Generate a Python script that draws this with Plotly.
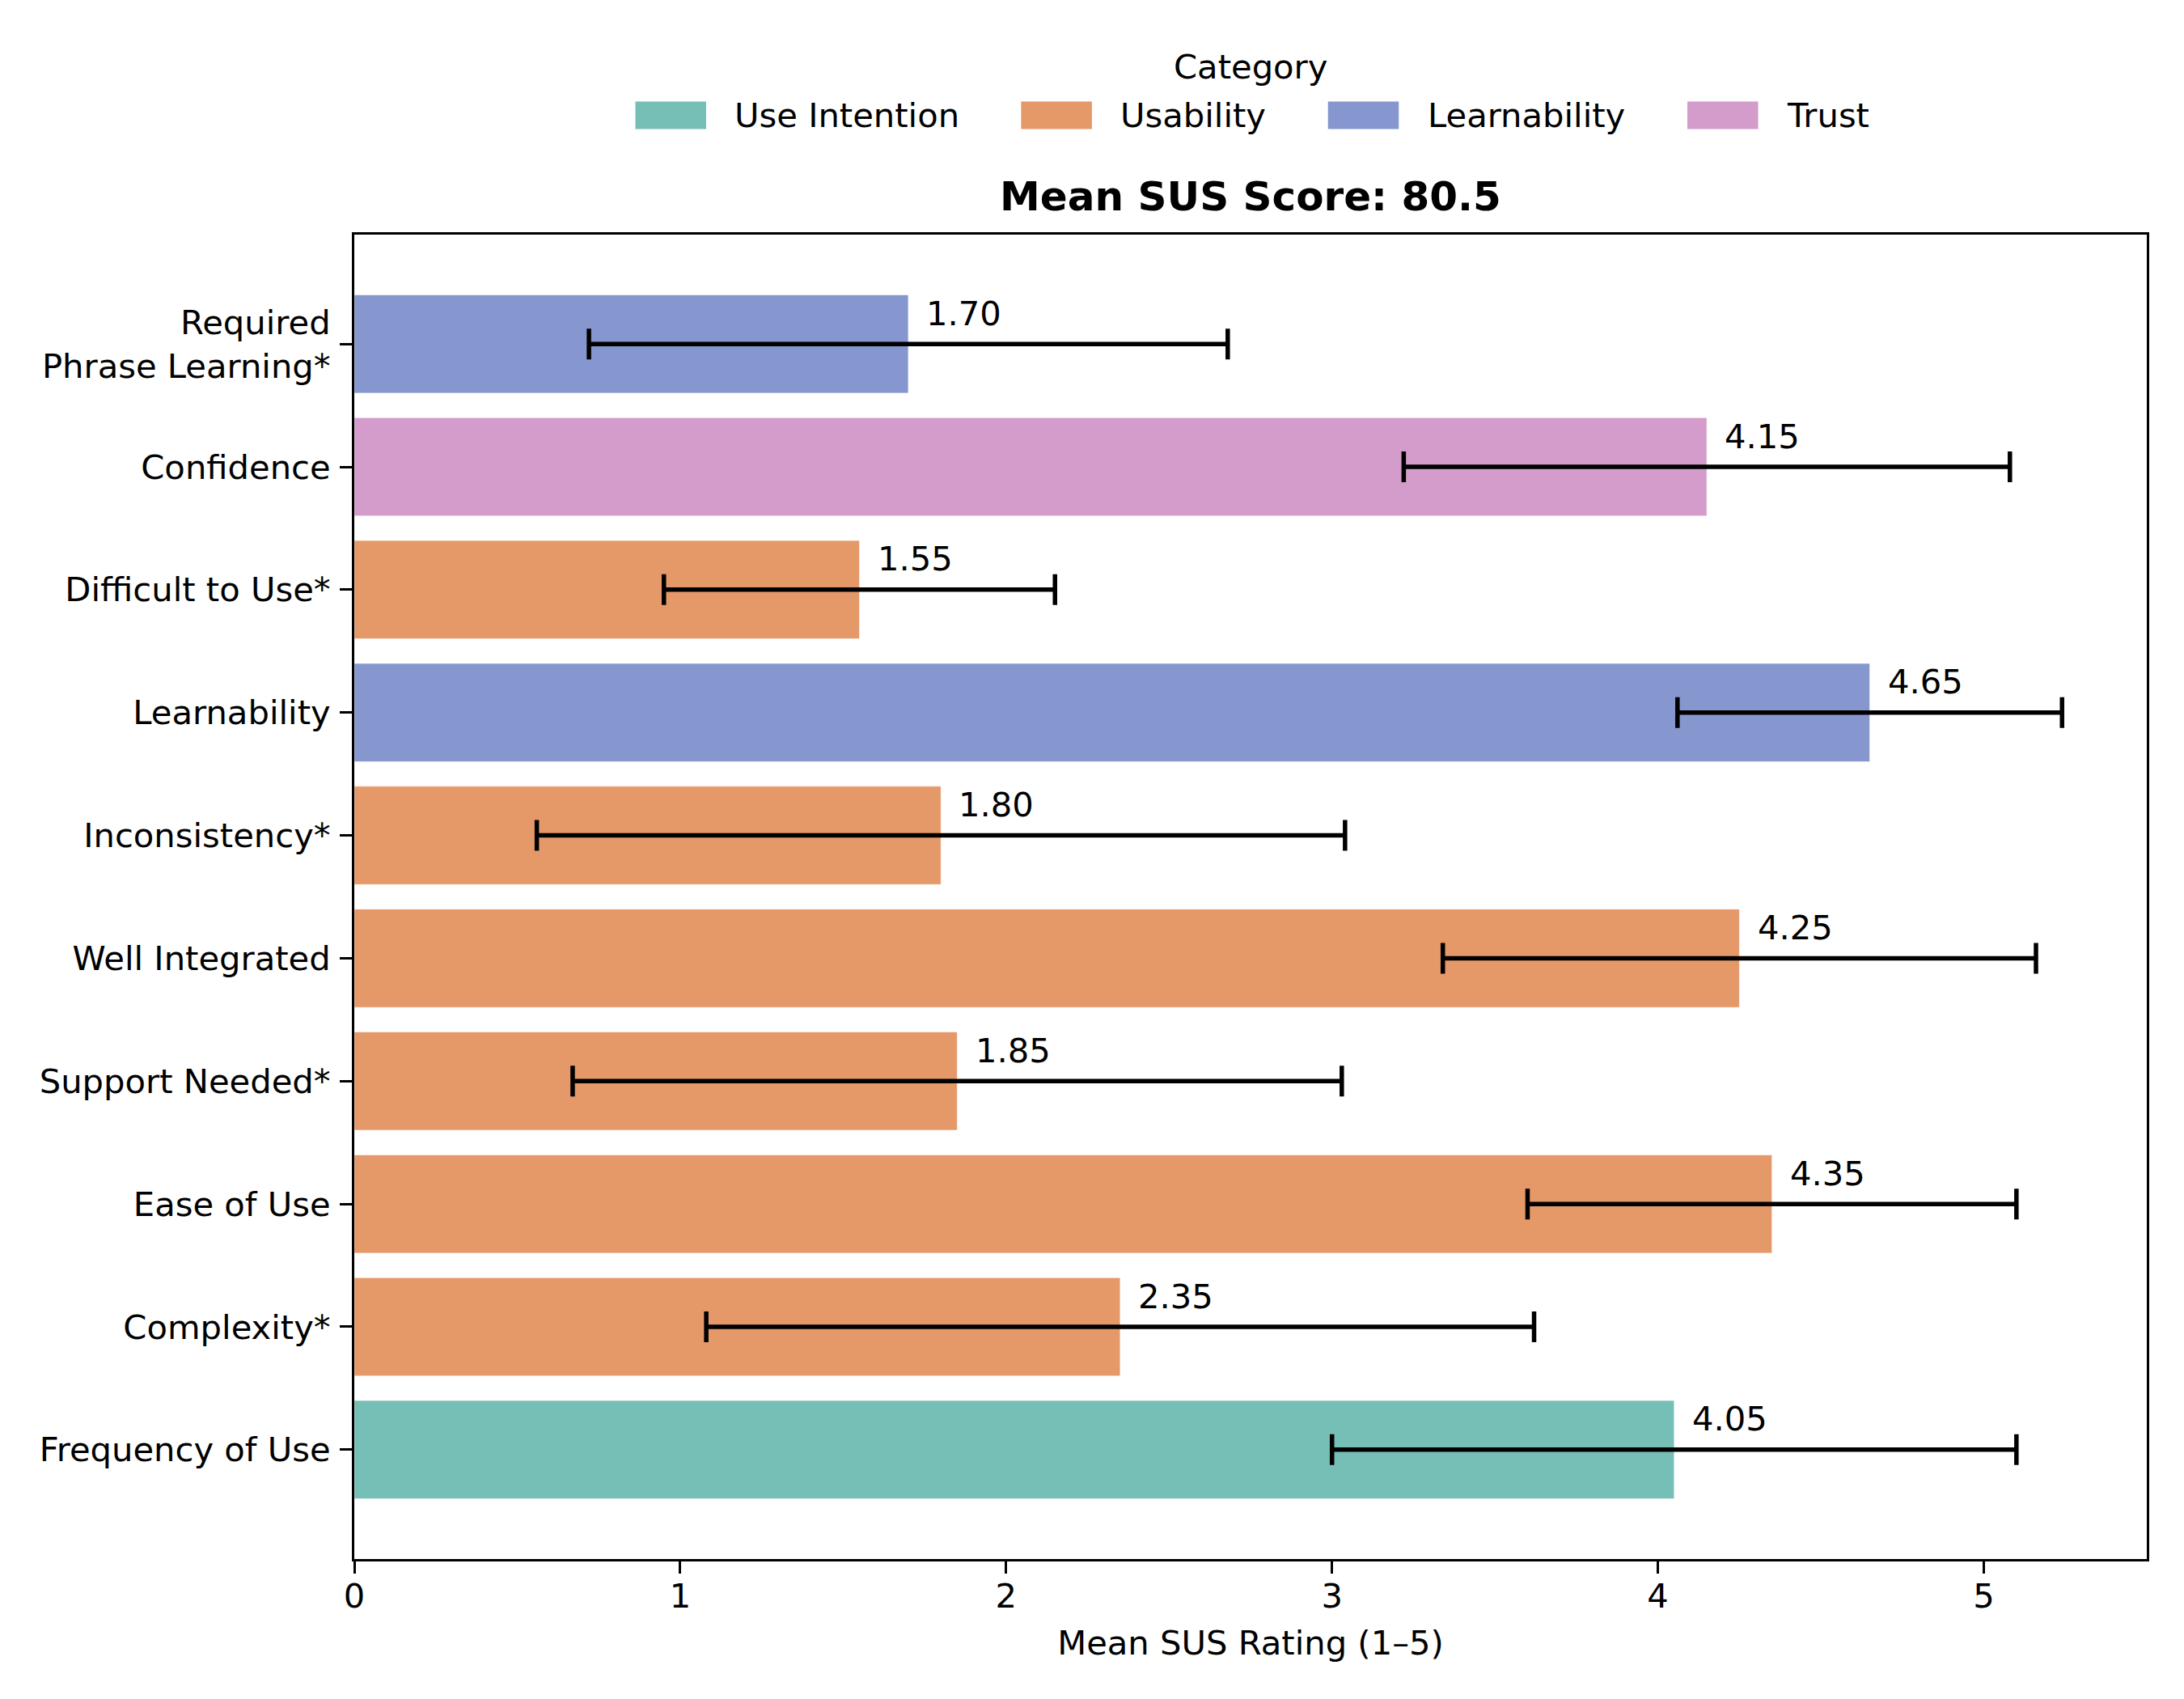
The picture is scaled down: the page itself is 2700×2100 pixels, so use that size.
import plotly.graph_objects as go

# SUS items, bottom to top
items = ["Frequency of Use", "Complexity*", "Ease of Use", "Support Needed*",
         "Well Integrated", "Inconsistency*", "Learnability", "Difficult to Use*",
         "Confidence", "Required<br>Phrase Learning*"]
means = [4.05, 2.35, 4.35, 1.85, 4.25, 1.80, 4.65, 1.55, 4.15, 1.70]
stds = [1.05, 1.27, 0.75, 1.18, 0.91, 1.24, 0.59, 0.60, 0.93, 0.98]
cats = ["Use Intention", "Usability", "Usability", "Usability", "Usability",
        "Usability", "Learnability", "Usability", "Trust", "Learnability"]

cat_order = ["Use Intention", "Usability", "Learnability", "Trust"]
colors = {"Use Intention": "#75BFB6", "Usability": "#E59868",
          "Learnability": "#8597CE", "Trust": "#D39CCB"}
sus_score = 80.5

FONT = "DejaVu Sans"
FS = 41.7

fig = go.Figure()
ypos = list(range(len(items)))

for c in cat_order:
    idx = [i for i in ypos if cats[i] == c]
    fig.add_trace(go.Bar(
        x=[means[i] for i in idx],
        y=[ypos[i] for i in idx],
        orientation="h",
        width=0.8,
        name=c,
        marker=dict(color=colors[c], line=dict(color="rgba(255,255,255,0.6)", width=1)),
        error_x=dict(type="data", array=[stds[i] for i in idx],
                     color="black", thickness=5.5, width=19),
        showlegend=False,
    ))

# value labels
for i in ypos:
    fig.add_annotation(x=means[i] + 0.05, y=ypos[i] + 0.25, text=f"{means[i]:.2f}",
                       showarrow=False, xanchor="left", yanchor="middle",
                       font=dict(family=FONT, size=FS, color="black"))

# legend drawn by hand (matplotlib style patches)
leg_x = [0.1568, 0.372, 0.5432, 0.7437]
for c, x0 in zip(cat_order, leg_x):
    fig.add_shape(type="rect", xref="paper", yref="paper",
                  x0=x0, x1=x0 + 0.0395, y0=1.0797, y1=1.1005,
                  fillcolor=colors[c], line=dict(width=0))
    fig.add_annotation(xref="paper", yref="paper", x=x0 + 0.0545, y=1.0901,
                       text=c, showarrow=False, xanchor="left", yanchor="middle",
                       font=dict(family=FONT, size=FS, color="black"))
fig.add_annotation(xref="paper", yref="paper", x=0.5, y=1.1265, text="Category",
                   showarrow=False, xanchor="center", yanchor="middle",
                   font=dict(family=FONT, size=FS, color="black"))

fig.update_layout(
    width=2700, height=2100,
    margin=dict(l=430, r=54, t=282, b=181),
    paper_bgcolor="white", plot_bgcolor="white",
    font=dict(family=FONT, size=FS, color="black"),
    title=dict(text=f"<b>Mean SUS Score: {sus_score}</b>", x=0.5, xref="paper",
               xanchor="center", y=1 - 234 / 2100, yanchor="middle",
               font=dict(family=FONT, size=50, color="black")),
    bargap=0.2,
)
fig.update_xaxes(range=[0, 5.5], tickvals=[0, 1, 2, 3, 4, 5],
                 showgrid=False, zeroline=False,
                 showline=True, linecolor="black", linewidth=3, mirror=True,
                 ticks="outside", ticklen=15, tickwidth=3, tickcolor="black",
                 ticklabelstandoff=-8,
                 title=dict(text="Mean SUS Rating (1–5)", standoff=20,
                            font=dict(family=FONT, size=FS)))
fig.update_yaxes(range=[-0.89, 9.89], tickvals=ypos, ticktext=items,
                 showgrid=False, zeroline=False,
                 showline=True, linecolor="black", linewidth=3, mirror=True,
                 ticks="outside", ticklen=15, tickwidth=3, tickcolor="black",
                 ticklabelstandoff=3)

fig.write_html("out.html")
